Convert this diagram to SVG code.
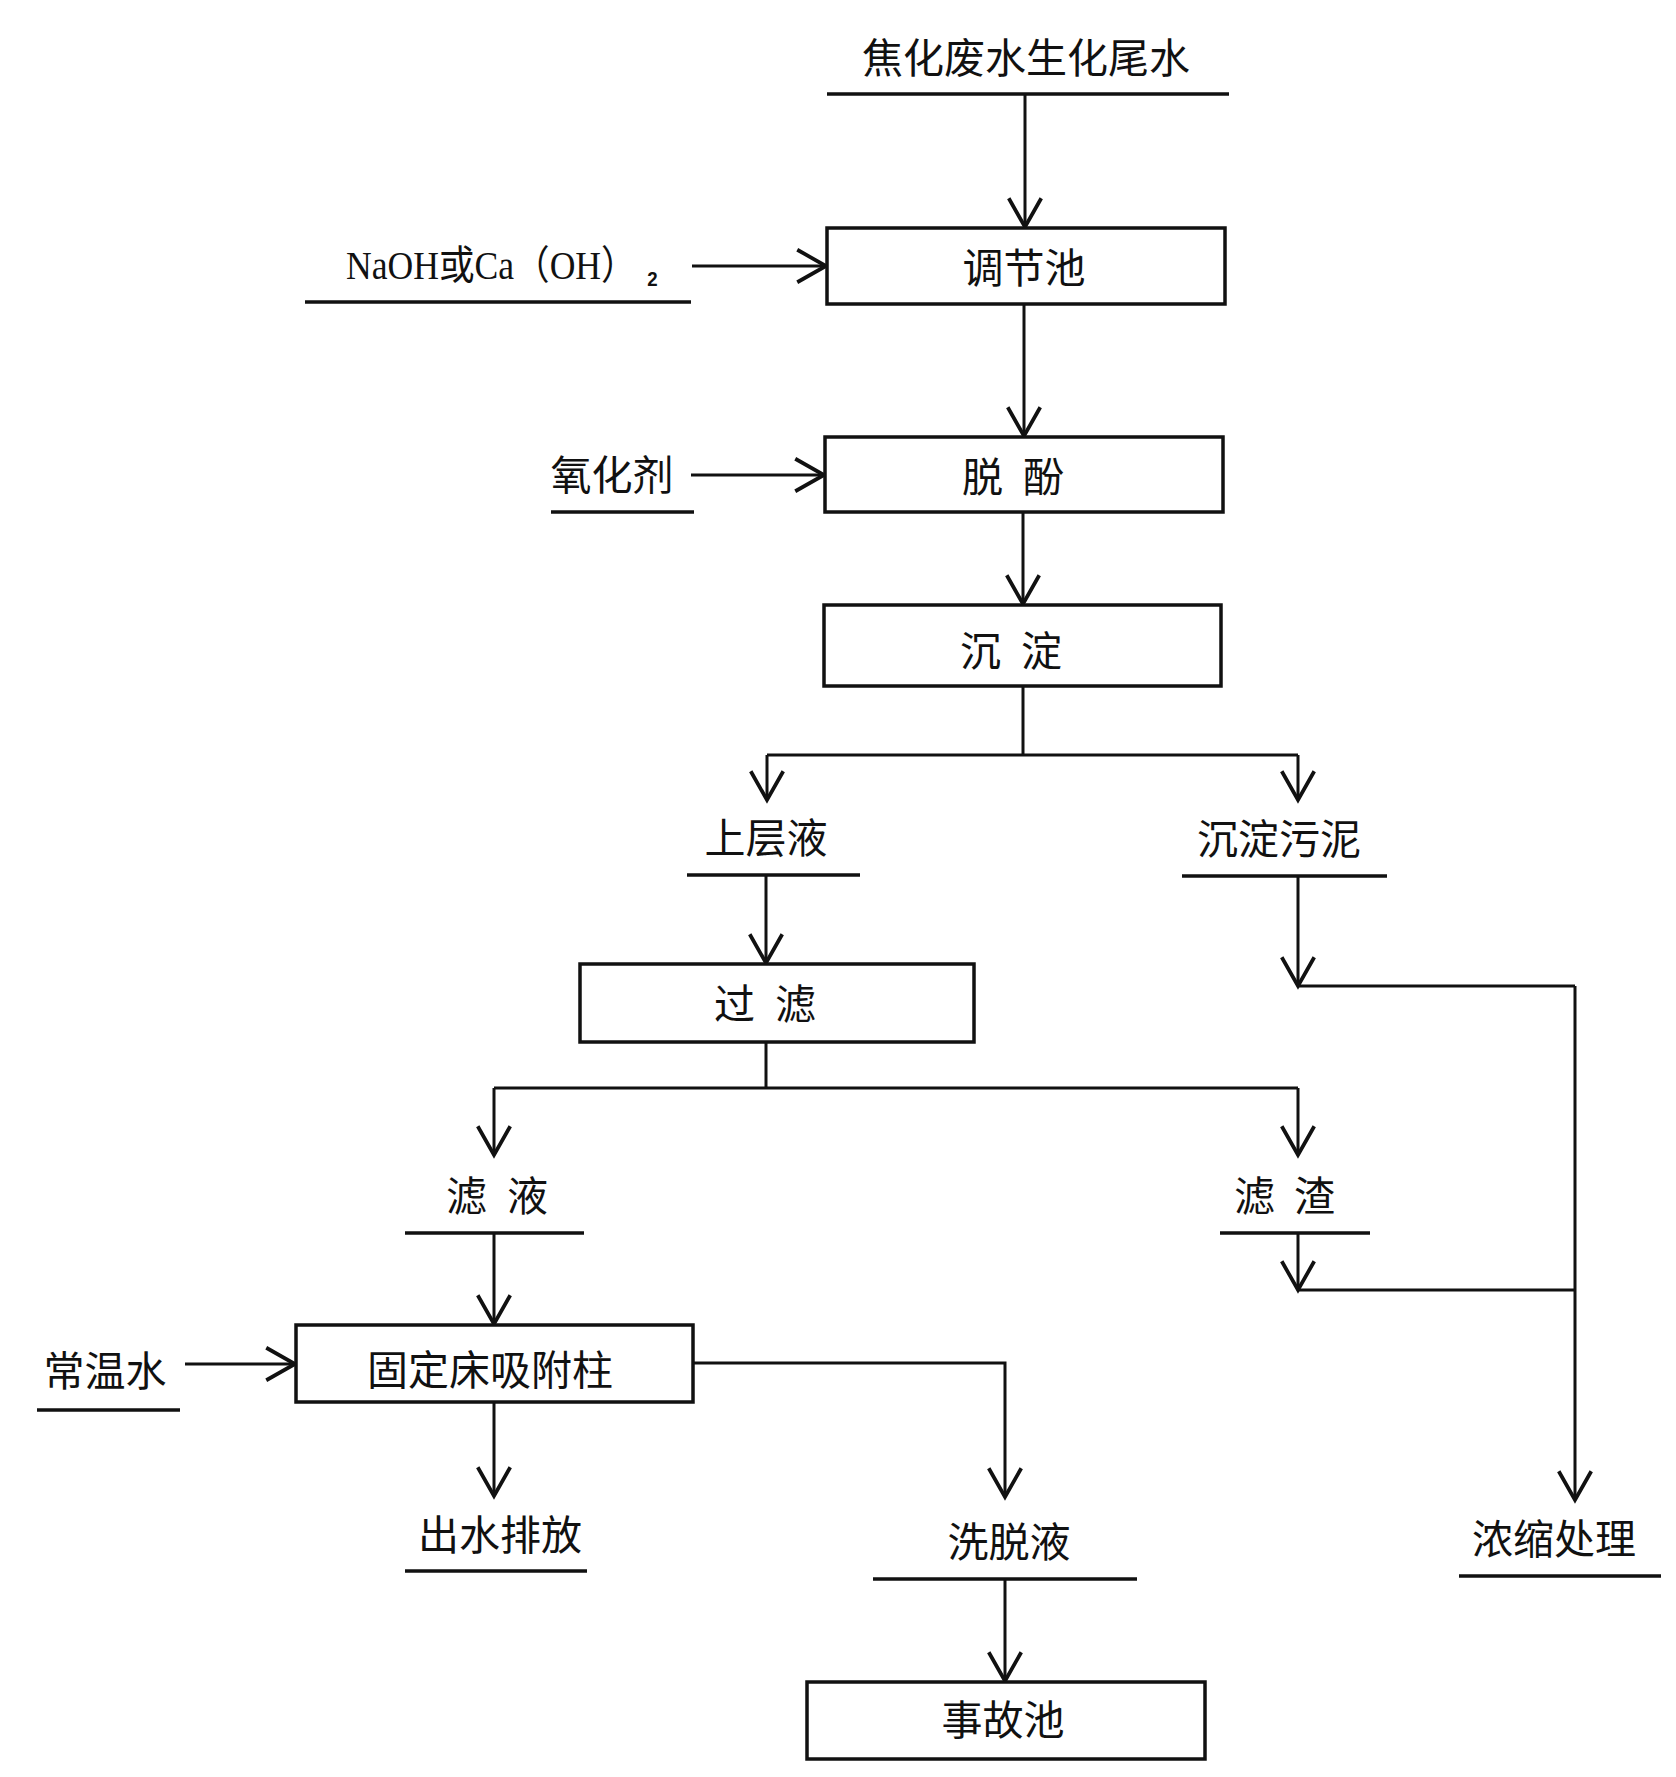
<svg xmlns="http://www.w3.org/2000/svg" width="1676" height="1777" viewBox="0 0 1676 1777">
<style>
  .bg{fill:#fff}
  .box{fill:#fff;stroke:#111;stroke-width:3.5}
  .ul{stroke:#111;stroke-width:3.5;fill:none}
  .ln{stroke:#111;stroke-width:3;fill:none}
  .arr{marker-end:url(#ah)}
  .t{font-family:"Noto Sans CJK SC","Noto Sans",sans-serif;font-size:41px;fill:#111;dominant-baseline:central}
  .c{text-anchor:middle}
  .lat{font-family:"Liberation Serif","Noto Sans CJK SC",serif;font-size:40px;fill:#111}
  .sub{font-family:"Liberation Sans",sans-serif;font-weight:bold;font-size:21px}
</style>
<defs>
  <marker id="ah" markerUnits="userSpaceOnUse" markerWidth="40" markerHeight="40" viewBox="-26 -16 30 32" refX="0" refY="0" orient="auto" overflow="visible">
    <path d="M-23,-13 L0,0 L-23,13" fill="none" stroke="#111" stroke-width="3"/>
  </marker>
</defs>
<rect class="bg" x="0" y="0" width="1676" height="1777"/>

<g id="connectors">
  <line class="ln arr" x1="1025" y1="94" x2="1025" y2="227"/>
  <line class="ln arr" x1="692" y1="266" x2="826" y2="266"/>
  <line class="ln arr" x1="1024" y1="304" x2="1024" y2="436"/>
  <line class="ln arr" x1="691" y1="475" x2="824" y2="475"/>
  <line class="ln arr" x1="1023" y1="512" x2="1023" y2="604"/>
  <polyline class="ln" points="1023,686 1023,755"/>
  <polyline class="ln" points="767,755 1298,755"/>
  <line class="ln arr" x1="767" y1="755" x2="767" y2="800"/>
  <line class="ln arr" x1="1298" y1="755" x2="1298" y2="800"/>
  <line class="ln arr" x1="766" y1="875" x2="766" y2="963"/>
  <line class="ln arr" x1="1298" y1="876" x2="1298" y2="986"/>
  <polyline class="ln" points="1298,986 1575,986"/>
  <line class="ln arr" x1="1575" y1="986" x2="1575" y2="1500"/>
  <polyline class="ln" points="766,1042 766,1088"/>
  <polyline class="ln" points="494,1088 1298,1088"/>
  <line class="ln arr" x1="494" y1="1088" x2="494" y2="1155"/>
  <line class="ln arr" x1="1298" y1="1088" x2="1298" y2="1155"/>
  <line class="ln arr" x1="1298" y1="1233" x2="1298" y2="1290"/>
  <polyline class="ln" points="1298,1290 1575,1290"/>
  <line class="ln arr" x1="494" y1="1233" x2="494" y2="1324"/>
  <line class="ln arr" x1="185" y1="1364" x2="295" y2="1364"/>
  <line class="ln arr" x1="494" y1="1402" x2="494" y2="1496"/>
  <polyline class="ln arr" points="693,1363 1005,1363 1005,1497"/>
  <line class="ln arr" x1="1005" y1="1579" x2="1005" y2="1681"/>
</g>

<g id="n-source">
  <text class="t c" x="1026" y="55">焦化废水生化尾水</text>
  <line class="ul" x1="827" y1="94" x2="1229" y2="94"/>
</g>
<g id="n-naoh">
  <text class="lat" transform="translate(346,279) scale(0.89,1)" x="0" y="0">NaOH或Ca（OH）<tspan class="sub" dx="12" dy="7">2</tspan></text>
  <line class="ul" x1="305" y1="302" x2="691" y2="302"/>
</g>
<g id="n-tiaojiechi">
  <rect class="box" x="827" y="228" width="398" height="76"/>
  <text class="t c" x="1024" y="265">调节池</text>
</g>
<g id="n-oxidant">
  <text class="t c" x="612" y="472">氧化剂</text>
  <line class="ul" x1="551" y1="512" x2="694" y2="512"/>
</g>
<g id="n-tuofen">
  <rect class="box" x="825" y="437" width="398" height="75"/>
  <text class="t" x="962 1023" y="474">脱酚</text>
</g>
<g id="n-chendian">
  <rect class="box" x="824" y="605" width="397" height="81"/>
  <text class="t" x="960 1021" y="648">沉淀</text>
</g>
<g id="n-shangceng">
  <text class="t c" x="766" y="835">上层液</text>
  <line class="ul" x1="687" y1="875" x2="860" y2="875"/>
</g>
<g id="n-wuni">
  <text class="t c" x="1279" y="836">沉淀污泥</text>
  <line class="ul" x1="1182" y1="876" x2="1387" y2="876"/>
</g>
<g id="n-guolv">
  <rect class="box" x="580" y="964" width="394" height="78"/>
  <text class="t" x="714 775" y="1001">过滤</text>
</g>
<g id="n-lvye">
  <text class="t" x="446 507" y="1193">滤液</text>
  <line class="ul" x1="405" y1="1233" x2="584" y2="1233"/>
</g>
<g id="n-lvzha">
  <text class="t" x="1234 1294" y="1193">滤渣</text>
  <line class="ul" x1="1220" y1="1233" x2="1370" y2="1233"/>
</g>
<g id="n-water">
  <text class="t c" x="105" y="1368">常温水</text>
  <line class="ul" x1="37" y1="1410" x2="180" y2="1410"/>
</g>
<g id="n-column">
  <rect class="box" x="296" y="1325" width="397" height="77"/>
  <text class="t c" x="490" y="1367">固定床吸附柱</text>
</g>
<g id="n-discharge">
  <text class="t c" x="500" y="1532">出水排放</text>
  <line class="ul" x1="405" y1="1571" x2="587" y2="1571"/>
</g>
<g id="n-eluate">
  <text class="t c" x="1009" y="1539">洗脱液</text>
  <line class="ul" x1="873" y1="1579" x2="1137" y2="1579"/>
</g>
<g id="n-concentrate">
  <text class="t c" x="1554" y="1536">浓缩处理</text>
  <line class="ul" x1="1459" y1="1576" x2="1661" y2="1576"/>
</g>
<g id="n-accident">
  <rect class="box" x="807" y="1682" width="398" height="77"/>
  <text class="t c" x="1003" y="1717">事故池</text>
</g>
</svg>
